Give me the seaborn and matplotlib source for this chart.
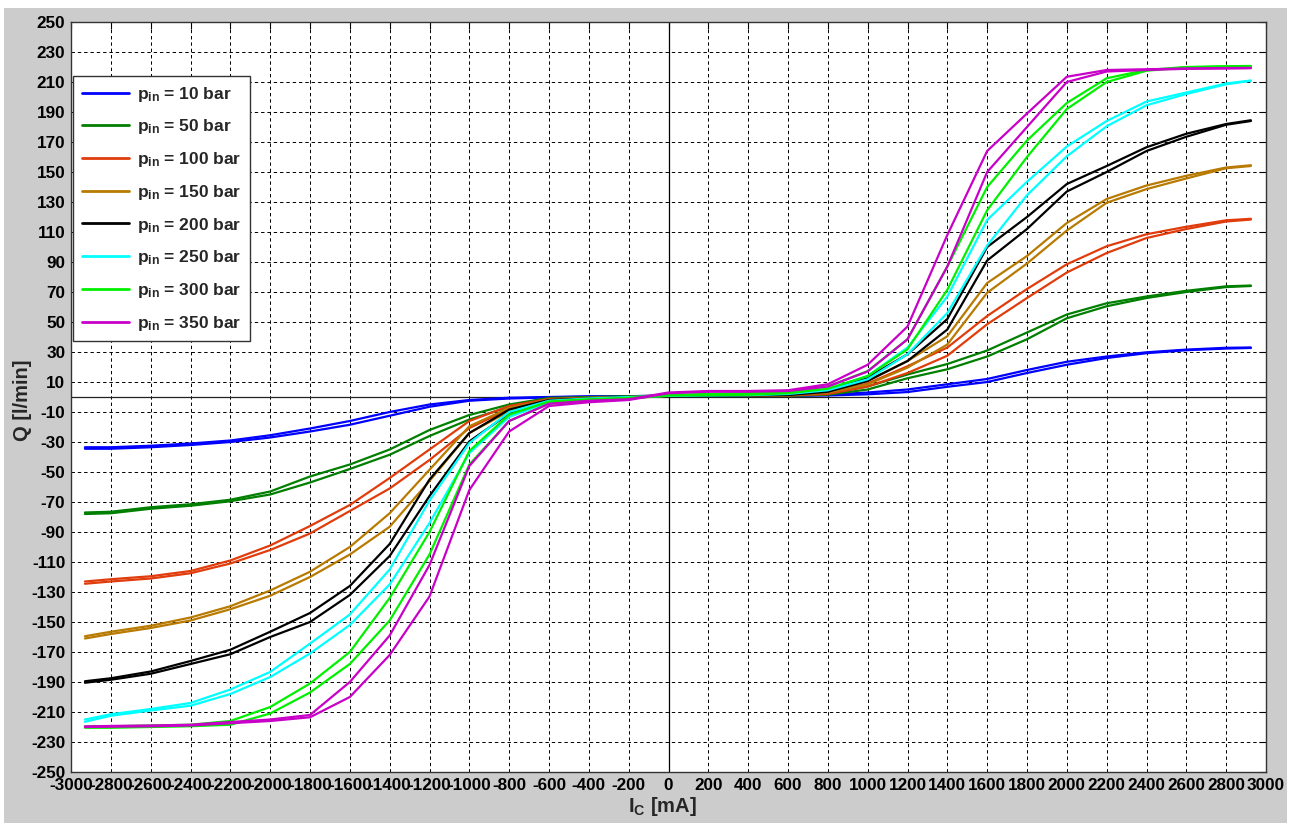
import numpy as np
import pandas as pd
import matplotlib
matplotlib.use("Agg")
import matplotlib.pyplot as plt
from matplotlib.lines import Line2D
from matplotlib.patches import Rectangle
import seaborn as sns

# coil current grid [mA], shared by every branch
current = [-2930, -2800, -2600, -2400, -2200, -2000, -1800, -1600, -1400, -1200,
           -1000, -800, -600, -400, -200, 0, 200, 400, 600, 800,
           1000, 1200, 1400, 1600, 1800, 2000, 2200, 2400, 2600, 2800, 2924]

pressures = [10, 50, 100, 150, 200, 250, 300, 350]

# flow [l/min], upper branch (a) and lower branch (b) of each hysteresis loop
q10_a = [-33.5, -33.5, -32.5, -31, -29, -25.5, -21, -16, -10, -5, -2, -0.5, 0, 0.5, 0.5, 1,
         1, 1, 1, 1.5, 3, 5, 8.5, 12, 18, 23.5, 27, 29.8, 31.6, 32.8, 33]
q10_b = [-34.5, -34.5, -33.5, -32, -30, -27, -23, -18.5, -12.5, -6.5, -2.5, -1, -0.3, 0.2, 0.4, 0.8,
         0.8, 0.8, 0.8, 1, 1.8, 3.3, 6.8, 10, 16, 21.5, 26, 29.2, 31.2, 32.3, 32.7]
q50_a = [-77, -76.5, -73.5, -71.5, -68.5, -63, -53, -45, -35, -22, -12, -5, -0.6, 0, 0.5, 1,
         1, 1, 1.2, 2.2, 7, 15, 22, 31, 43, 55, 62.5, 67, 70.8, 73.8, 74.3]
q50_b = [-78, -77.5, -74.5, -72.5, -69.5, -65, -57, -48, -38.5, -26, -15, -6.6, -1.5, -0.5, 0, 0.7,
         0.8, 0.8, 0.8, 1.5, 5, 12.5, 18.5, 27, 38.5, 52.5, 60.5, 66, 70, 73.3, 74]
q100_a = [-123, -121.5, -119.5, -116, -109, -99, -86, -72, -54, -35, -16, -6, -1.3, -0.5, 0, 1,
          1, 1.2, 1.5, 2.9, 9, 20.5, 33, 54, 72, 88.5, 100.5, 108.5, 113.5, 117.8, 118.8]
q100_b = [-124.5, -123, -121, -117.5, -111, -102, -91, -76, -61, -42, -20.7, -8, -2, -1, -0.5, 0.8,
          0.8, 0.8, 1, 2, 7, 16, 27.5, 48.5, 66, 83, 96, 106, 112, 117, 118.3]
q150_a = [-159.5, -156.5, -152.5, -147, -139.5, -129, -116.5, -100, -77.5, -48.5, -19.5, -7.3, -1.8, -0.8, 0, 1,
          1, 1.2, 1.8, 3.8, 10.7, 24, 40.5, 76, 94, 116, 132, 141, 147.5, 153, 154.5]
q150_b = [-161, -158, -154, -149, -141.5, -132.5, -120, -105, -86.5, -56, -24, -9.5, -2.5, -1.2, -0.5, 0.8,
          0.8, 0.8, 1.2, 3, 8.4, 19.6, 35, 69.5, 89, 111, 129.5, 138.6, 145.7, 152.5, 154]
q200_a = [-189.5, -187.5, -183, -176, -168.5, -156.5, -144, -126, -98, -55, -24, -8.4, -2, -1, 0, 1,
          1.2, 1.5, 2, 4.6, 13, 28.5, 52, 100, 120, 142, 154, 166.5, 175.5, 182, 184.5]
q200_b = [-190.5, -188.5, -184.5, -178, -171.5, -160, -150, -132, -106, -66, -29.6, -11, -3, -1.5, -0.5, 0.8,
          0.8, 1, 1.3, 3.5, 10.7, 24, 45, 91, 112, 137, 150, 164, 173.5, 181.5, 184]
q250_a = [-215, -211.5, -208, -204, -195, -183.3, -164.4, -145, -115, -69, -30.7, -10, -2.5, -1, 0, 1,
          1.5, 2, 3, 5.5, 14, 33, 67, 118, 143.5, 167, 184, 197, 203, 209, 211]
q250_b = [-216.5, -212.5, -209, -205.8, -198, -186.7, -171, -152, -125, -84, -37.4, -13.3, -3.5, -2, -0.5, 0.8,
          1, 1.2, 2, 4.5, 11.8, 28.5, 56, 101, 134.5, 160.5, 180.5, 194.5, 202, 208.5, 210.8]
q300_a = [-219.6, -219.5, -219, -218.5, -216, -206.7, -191, -170, -134, -90, -36, -11.8, -3, -1.5, -0.5, 1.5,
          2, 2.5, 3.5, 7, 17.3, 38.5, 87, 140, 171, 196, 212.5, 218, 220, 220.5, 220.7]
q300_b = [-220.5, -220.5, -220, -219.5, -218.5, -211, -197, -178, -149, -105, -45, -16, -4.5, -2.5, -1, 1,
          1.2, 1.5, 2.5, 5.5, 14, 31.8, 71.5, 124.5, 160, 192, 210, 217.5, 219.8, 220.3, 220.5]
q350_a = [-219.6, -219.3, -219, -218.5, -216.7, -215, -212, -190, -159, -112, -46, -16, -4.5, -2.5, -1.5, 3,
          4, 4, 4.5, 8.5, 21.5, 47, 108, 164, 189, 213.5, 218, 218.5, 219, 219.3, 219.4]
q350_b = [-220, -219.8, -219.5, -219, -217.5, -216, -213.5, -200, -172, -133, -62, -23, -6, -3.5, -2, 2.5,
          3.5, 3.5, 4, 7, 17, 38.5, 87, 150, 180, 210, 217, 218, 218.8, 219, 219.2]

upper = [q10_a, q50_a, q100_a, q150_a, q200_a, q250_a, q300_a, q350_a]
lower = [q10_b, q50_b, q100_b, q150_b, q200_b, q250_b, q300_b, q350_b]
colors = ["#0000FF", "#007F00", "#E03C0C", "#B87A00", "#000000", "#00FFFF", "#00F000", "#C800C8"]

rows = []
for p, qa, qb in zip(pressures, upper, lower):
    for branch, qs in (("a", qa), ("b", qb)):
        for i, q in zip(current, qs):
            rows.append({"I": i, "Q": q, "p": p, "branch": f"{p}{branch}"})
df = pd.DataFrame(rows)

sns.set_style("white")
plt.rcParams["font.family"] = ["Liberation Sans", "DejaVu Sans"]
plt.rcParams["font.weight"] = "bold"
plt.rcParams["axes.unicode_minus"] = False
plt.rcParams["mathtext.fontset"] = "custom"
plt.rcParams["mathtext.rm"] = "Liberation Sans:bold"
plt.rcParams["mathtext.it"] = "Liberation Sans:bold"
plt.rcParams["mathtext.bf"] = "Liberation Sans:bold"

W, H = 1291, 826
fig = plt.figure(figsize=(W / 100, H / 100), dpi=100, facecolor="white")
fig.patches.append(Rectangle((4 / W, 3 / H), 1283 / W, 815 / H, transform=fig.transFigure,
                             facecolor="#CCCCCC", edgecolor="none", zorder=-10))
ax = fig.add_axes([71 / W, 54 / H, 1195 / W, 750 / H])
ax.set_facecolor("white")

ax.axhline(0, color="#222222", lw=0.9, zorder=1)
ax.axvline(0, color="#000000", lw=0.9, zorder=1)

sns.lineplot(data=df, x="I", y="Q", hue="p", units="branch", estimator=None, sort=False,
             palette=dict(zip(pressures, colors)), linewidth=1.6, legend=False, ax=ax, zorder=3)

ax.set_xlim(-3000, 3000)
ax.set_ylim(-250, 250)
ax.set_xticks(np.arange(-3000, 3001, 200))
ax.set_yticks(np.arange(-250, 251, 20))
ax.grid(True, color="black", linestyle=(0, (3.5, 3)), linewidth=0.7)
ax.tick_params(axis="both", direction="in", length=5, width=0.8, labelsize=12.3,
               top=True, right=True, colors="black")
ax.tick_params(axis="x", pad=4.5)
ax.tick_params(axis="y", pad=4)
for lab in ax.get_xticklabels() + ax.get_yticklabels():
    lab.set_fontweight("bold")
for s in ax.spines.values():
    s.set_color("#333333")
    s.set_linewidth(1.0)

ax.set_xlabel("")
ax.set_ylabel("")
fig.text(662 / W, 1 - 806 / H, r"$\mathrm{I_C}$ [mA]", fontsize=14.5, fontweight="bold",
         ha="center", va="center")
fig.text(22 / W, 1 - 400 / H, "Q [l/min]", fontsize=14.5, fontweight="bold",
         ha="center", va="center", rotation=90)

handles = [Line2D([], [], color=c, lw=2) for c in colors]
labels = [rf"$\mathrm{{p_{{in}}}}$ = {p} bar" for p in pressures]
leg = ax.legend(handles, labels, loc="upper left", bbox_to_anchor=(0.002, 0.928),
                borderaxespad=0, fancybox=False, framealpha=1, edgecolor="#333333",
                prop={"size": 12.5, "weight": "bold"}, handlelength=2.7, labelspacing=0.79,
                borderpad=0.5, handletextpad=0.45)
leg.get_frame().set_linewidth(1.0)

fig.savefig("out.png", dpi=100, facecolor=fig.get_facecolor())
